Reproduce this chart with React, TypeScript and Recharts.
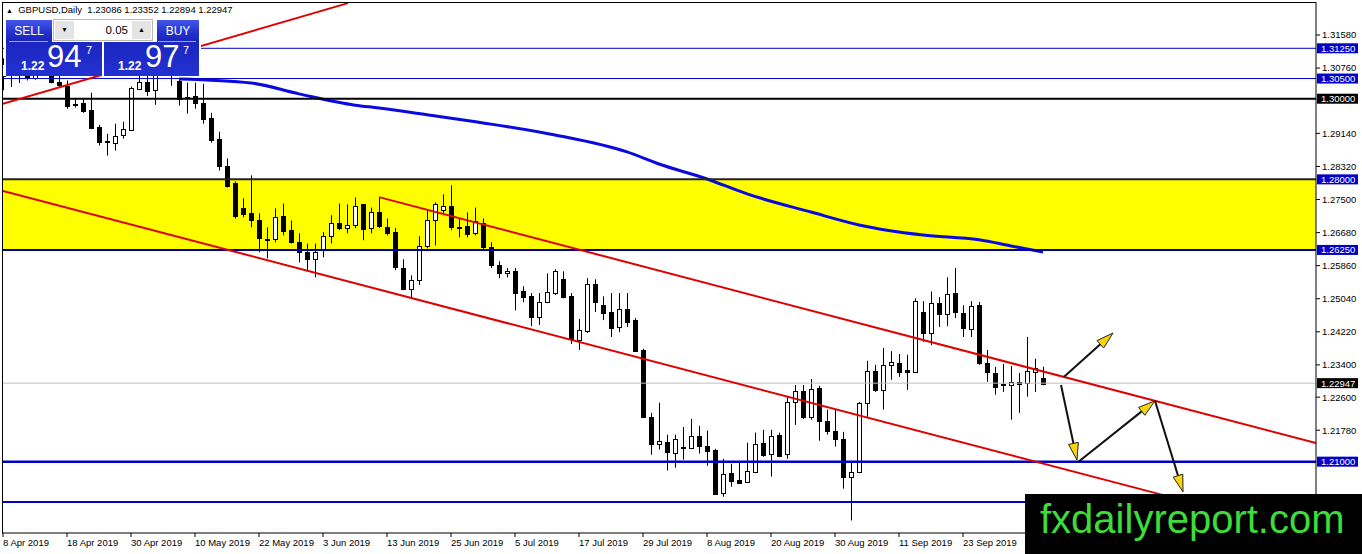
import React from 'react';
import {
    ComposedChart,
    Bar,
    Line,
    XAxis,
    YAxis,
    ReferenceLine,
    ReferenceArea,
} from 'recharts';

// GBPUSD daily, 8 Apr 2019 .. 7 Oct 2019 (one entry per bar)
const open = [
    1.3055, 1.3085, 1.3060, 1.3095, 1.3050, 1.3100, 1.3075, 1.3041, 1.3032, 1.2986,
    1.2990, 1.2973, 1.2931, 1.2895, 1.2891, 1.2911, 1.2923, 1.3025, 1.3042, 1.3022,
    1.3165, 1.3150, 1.3045, 1.3005, 1.3007, 1.2990, 1.2951, 1.2899, 1.2834, 1.2790,
    1.2730, 1.2716, 1.2698, 1.2653, 1.2651, 1.2708, 1.2674, 1.2644, 1.2619, 1.2602,
    1.2624, 1.2659, 1.2691, 1.2679, 1.2686, 1.2738, 1.2679, 1.2718, 1.2681, 1.2669,
    1.2580, 1.2528, 1.2550, 1.2634, 1.2698, 1.2723, 1.2733, 1.2682, 1.2684, 1.2666,
    1.2691, 1.2632, 1.2587, 1.2567, 1.2572, 1.2523, 1.2510, 1.2459, 1.2496, 1.2518,
    1.2552, 1.2510, 1.2402, 1.2424, 1.2540, 1.2488, 1.2471, 1.2434, 1.2478, 1.2451,
    1.2377, 1.2211, 1.2144, 1.2149, 1.2122, 1.2136, 1.2134, 1.2164, 1.2139, 1.2130,
    1.2023, 1.2073, 1.2055, 1.2050, 1.2075, 1.2147, 1.2120, 1.2167, 1.2120, 1.2248,
    1.2275, 1.2211, 1.2283, 1.2201, 1.2177, 1.2157, 1.2063, 1.2075, 1.2246, 1.2325,
    1.2278, 1.2340, 1.2345, 1.2327, 1.2322, 1.2471, 1.2419, 1.2493, 1.2466, 1.2518,
    1.2468, 1.2429, 1.2488, 1.2345, 1.2320, 1.2292, 1.2290, 1.2298, 1.2295, 1.2322,
    1.23086,
];
const high = [
    1.3100, 1.3105, 1.3115, 1.3120, 1.3130, 1.3120, 1.3085, 1.3075, 1.3045, 1.3002,
    1.3000, 1.3015, 1.2935, 1.2913, 1.2938, 1.2943, 1.3030, 1.3070, 1.3060, 1.3177,
    1.3200, 1.3175, 1.3050, 1.3040, 1.3040, 1.3037, 1.2965, 1.2918, 1.2852, 1.2795,
    1.2753, 1.2810, 1.2716, 1.2681, 1.2728, 1.2740, 1.2698, 1.2666, 1.2641, 1.2641,
    1.2669, 1.2711, 1.2740, 1.2738, 1.2755, 1.2738, 1.2730, 1.2755, 1.2703, 1.2679,
    1.2602, 1.2562, 1.2659, 1.2723, 1.2743, 1.2763, 1.2785, 1.2703, 1.2718, 1.2730,
    1.2703, 1.2644, 1.2597, 1.2580, 1.2580, 1.2535, 1.2518, 1.2518, 1.2567, 1.2577,
    1.2572, 1.2518, 1.2454, 1.2555, 1.2552, 1.2510, 1.2518, 1.2518, 1.2518, 1.2456,
    1.2380, 1.2221, 1.2246, 1.2167, 1.2167, 1.2186, 1.2206, 1.2189, 1.2177, 1.2132,
    1.2107, 1.2095, 1.2098, 1.2147, 1.2172, 1.2179, 1.2179, 1.2172, 1.2261, 1.2290,
    1.2290, 1.2305, 1.2288, 1.2229, 1.2229, 1.2174, 1.2100, 1.2248, 1.2350, 1.2340,
    1.2382, 1.2374, 1.2367, 1.2365, 1.2505, 1.2498, 1.2522, 1.2508, 1.2557, 1.2580,
    1.2488, 1.2498, 1.2496, 1.2377, 1.2335, 1.2342, 1.2337, 1.2320, 1.2409, 1.2355,
    1.23352,
];
const low = [
    1.3021, 1.3029, 1.3039, 1.3045, 1.3047, 1.3060, 1.3038, 1.3030, 1.2975, 1.2978,
    1.2965, 1.2926, 1.2884, 1.2859, 1.2871, 1.2901, 1.2920, 1.3022, 1.3007, 1.2985,
    1.3110, 1.3032, 1.2983, 1.2963, 1.2975, 1.2938, 1.2891, 1.2822, 1.2780, 1.2703,
    1.2706, 1.2681, 1.2619, 1.2604, 1.2644, 1.2661, 1.2641, 1.2594, 1.2575, 1.2557,
    1.2607, 1.2641, 1.2674, 1.2666, 1.2679, 1.2649, 1.2666, 1.2679, 1.2661, 1.2575,
    1.2525, 1.2505, 1.2538, 1.2629, 1.2636, 1.2711, 1.2674, 1.2656, 1.2656, 1.2661,
    1.2624, 1.2580, 1.2555, 1.2557, 1.2475, 1.2495, 1.2436, 1.2439, 1.2493, 1.2513,
    1.2505, 1.2392, 1.2377, 1.2419, 1.2471, 1.2451, 1.2409, 1.2421, 1.2434, 1.2372,
    1.2208, 1.2117, 1.2130, 1.2078, 1.2085, 1.2105, 1.2132, 1.2120, 1.2090, 1.2018,
    1.2013, 1.2038, 1.2045, 1.2048, 1.2073, 1.2112, 1.2063, 1.2112, 1.2107, 1.2191,
    1.2206, 1.2204, 1.2152, 1.2167, 1.2137, 1.2033, 1.1954, 1.2073, 1.2211, 1.2273,
    1.2229, 1.2303, 1.2310, 1.2278, 1.2320, 1.2397, 1.2389, 1.2434, 1.2436, 1.2456,
    1.2409, 1.2409, 1.2340, 1.2298, 1.2266, 1.2273, 1.2204, 1.2221, 1.2261, 1.2273,
    1.22894,
];
const close = [
    1.3085, 1.3060, 1.3095, 1.3050, 1.3100, 1.3075, 1.3041, 1.3034, 1.2983, 1.2984,
    1.2970, 1.2928, 1.2894, 1.2892, 1.2908, 1.2926, 1.3027, 1.3042, 1.3020, 1.3165,
    1.3150, 1.3090, 1.3000, 1.3002, 1.2990, 1.2951, 1.2896, 1.2832, 1.2785, 1.2708,
    1.2716, 1.2698, 1.2654, 1.2650, 1.2706, 1.2671, 1.2644, 1.2619, 1.2602, 1.2619,
    1.2659, 1.2691, 1.2679, 1.2686, 1.2733, 1.2676, 1.2718, 1.2684, 1.2666, 1.2582,
    1.2528, 1.2550, 1.2634, 1.2698, 1.2738, 1.2733, 1.2681, 1.2680, 1.2664, 1.2696,
    1.2632, 1.2587, 1.2567, 1.2572, 1.2518, 1.2508, 1.2459, 1.2496, 1.2520, 1.2572,
    1.2508, 1.2404, 1.2426, 1.2540, 1.2496, 1.2468, 1.2431, 1.2478, 1.2446, 1.2374,
    1.2211, 1.2144, 1.2152, 1.2125, 1.2157, 1.2134, 1.2164, 1.2139, 1.2127, 1.2021,
    1.2070, 1.2053, 1.2048, 1.2078, 1.2144, 1.2117, 1.2164, 1.2115, 1.2248, 1.2275,
    1.2211, 1.2280, 1.2201, 1.2177, 1.2157, 1.2063, 1.2075, 1.2246, 1.2325, 1.2278,
    1.2340, 1.2347, 1.2322, 1.2323, 1.2498, 1.2419, 1.2493, 1.2466, 1.2515, 1.2471,
    1.2431, 1.2486, 1.2345, 1.2322, 1.2285, 1.2290, 1.2298, 1.2293, 1.2325, 1.2332,
    1.22947,
];

// moving average, read at a few bars (bar index -> price)
const maIdx = [22, 31, 37, 44, 47, 53, 60, 69, 78, 82, 88, 93, 101, 107, 115, 122, 126, 130];
const maVal = [
    1.3049, 1.3039, 1.3012, 1.2984, 1.2977, 1.2960, 1.2940, 1.2910, 1.2868, 1.2838,
    1.2801, 1.2764, 1.2719, 1.2687, 1.2662, 1.2650, 1.2635, 1.2620,
];

// axis labels
const dateLabels = [
    '8 Apr 2019', '18 Apr 2019', '30 Apr 2019', '10 May 2019', '22 May 2019', '3 Jun 2019',
    '13 Jun 2019', '25 Jun 2019', '5 Jul 2019', '17 Jul 2019', '29 Jul 2019', '8 Aug 2019',
    '20 Aug 2019', '30 Aug 2019', '11 Sep 2019', '23 Sep 2019',
];
const dateTickBars = [0, 8, 16, 24, 32, 40, 48, 56, 64, 72, 80, 88, 96, 104, 112, 120];
const priceTicks = [1.3158, 1.3076, 1.2914, 1.2832, 1.275, 1.2668, 1.2586, 1.2504, 1.2422, 1.234, 1.226, 1.2178];

// horizontal levels and zone (the 1.20 level's tag sits under the watermark)
const levelPrices = [1.3125, 1.305, 1.3, 1.28, 1.2625, 1.21, 1.2];
const zone = [1.2625, 1.28];
const lastPrice = 1.22947;

// trend lines: [barFrom, priceFrom, barTo, priceTo]
const trendLines = [
    [-0.125, 1.2987, 43.125, 1.3237],
    [-0.125, 1.2772, 146, 1.2012],
    [47, 1.2756, 164.125, 1.2146],
];
// projected path arrows: [barFrom, priceFrom, barTo, priceTo]
const arrows = [
    [132.6, 1.2310, 138.75, 1.2419],
    [132.25, 1.2290, 134.25, 1.2104],
    [134.4, 1.2099, 144, 1.2251],
    [144, 1.2251, 147.5, 1.2025],
];

const rows = open.map((o, i) => {
    const k = maIdx.indexOf(i);
    return {
        i,
        o,
        h: high[i],
        l: low[i],
        c: close[i],
        range: [low[i], high[i]],
        ma: k >= 0 ? maVal[k] : null,
    };
});

const FONT = '"Liberation Sans", Arial, sans-serif';
const BLUE = '#0000c8';

function Candle(props: any) {
    const { x, y, width, height, payload } = props;
    if (x == null || y == null) return null;
    const c = Math.round(x + width / 2);
    const span = payload.h - payload.l;
    const k = span > 0 ? height / span : 0;
    const yo = y + (payload.h - payload.o) * k;
    const yc = y + (payload.h - payload.c) * k;
    const top = Math.round(Math.min(yo, yc));
    const bh = Math.max(1, Math.round(Math.abs(yo - yc)));
    const up = payload.c >= payload.o;
    return (
        <g>
            <line x1={c + 0.5} x2={c + 0.5} y1={y} y2={y + height} stroke="#000" strokeWidth={1} />
            <rect x={c - 1.5} y={top + 0.5} width={4} height={bh} fill={up ? '#fff' : '#000'} stroke="#000" strokeWidth={1} />
        </g>
    );
}

function DateTick(props: any) {
    const { x, y, payload } = props;
    const label = dateLabels[dateTickBars.indexOf(payload.value)];
    return (
        <text x={x} y={y + 7} fontSize={9.5} fontFamily={FONT} fill="#000" textAnchor="start">
            {label}
        </text>
    );
}

function PriceTag(props: any) {
    const { viewBox, text, bg } = props;
    if (!viewBox || !text) return null;
    const left = viewBox.x + viewBox.width + 1;
    return (
        <g>
            <rect x={left} y={viewBox.y - 5} width={41} height={10} fill={bg} />
            <text x={left + 4} y={viewBox.y + 3.5} fontSize={9.5} fontFamily={FONT} fill="#fff">
                {text}
            </text>
        </g>
    );
}

function Arrow(props: any) {
    const { x1, y1, x2, y2 } = props;
    const dx = x2 - x1;
    const dy = y2 - y1;
    const len = Math.hypot(dx, dy) || 1;
    const ux = dx / len;
    const uy = dy / len;
    const bx = x2 - ux * 17;
    const by = y2 - uy * 17;
    const pts = `${x2},${y2} ${bx - uy * 5},${by + ux * 5} ${bx + uy * 5},${by - ux * 5}`;
    return (
        <g>
            <line x1={x1} y1={y1} x2={bx} y2={by} stroke="#111" strokeWidth={2} />
            <polygon points={pts} fill="#f7d50c" stroke="#222" strokeWidth={1} />
        </g>
    );
}

const levelStroke = [BLUE, BLUE, '#000', '#222', '#0000a8', BLUE, BLUE];
const levelWidth = [1, 1, 2, 2, 2, 2.5, 2];
const levelTag = [BLUE, BLUE, '#000', BLUE, BLUE, BLUE, ''];

const btn: React.CSSProperties = {
    position: 'absolute',
    background: 'linear-gradient(180deg, #4456ea 0%, #2230cc 60%, #1a24b8 100%)',
    color: '#fff',
    fontFamily: FONT,
    textAlign: 'center',
};
const priceBox: React.CSSProperties = {
    position: 'absolute',
    top: 42,
    height: 34,
    background: 'linear-gradient(180deg, #1c26c0 0%, #2232d2 100%)',
    color: '#fff',
    fontFamily: FONT,
};

function TradePanel() {
    return (
        <>
            <div style={{ position: 'absolute', left: 4, top: 18, width: 197, height: 58, background: '#fff' }} />
            <div style={{ position: 'absolute', left: 6, top: 4, fontFamily: FONT, fontSize: 9.5, whiteSpace: 'pre', color: '#000' }}>
                <span style={{ fontSize: 7 }}>▲</span>{'  GBPUSD,Daily  1.23086 1.23352 1.22894 1.22947'}
            </div>
            <div style={{ ...btn, left: 6, top: 20, width: 46, height: 22, lineHeight: '22px', fontSize: 12 }}>SELL</div>
            <div style={{ position: 'absolute', left: 9, top: 41, width: 39, height: 1, background: '#9aa2ee' }} />
            <div style={{ position: 'absolute', left: 53, top: 19, width: 100, height: 22, background: '#fff', border: '1px solid #b8b8b8', boxSizing: 'border-box' }}>
                <div style={{ position: 'absolute', left: 1, top: 1, width: 19, height: 18, background: '#e4e4e4', fontSize: 7, textAlign: 'center', lineHeight: '18px' }}>▼</div>
                <div style={{ position: 'absolute', right: 24, top: 0, height: 20, lineHeight: '20px', fontFamily: FONT, fontSize: 11.5 }}>0.05</div>
                <div style={{ position: 'absolute', right: 1, top: 1, width: 19, height: 18, background: '#e4e4e4', fontSize: 7, textAlign: 'center', lineHeight: '18px' }}>▲</div>
            </div>
            <div style={{ ...btn, left: 157, top: 20, width: 42, height: 22, lineHeight: '22px', fontSize: 12 }}>BUY</div>
            <div style={{ position: 'absolute', left: 158, top: 41, width: 38, height: 1, background: '#9aa2ee' }} />
            <div style={{ ...priceBox, left: 6, width: 96 }}>
                <span style={{ position: 'absolute', left: 15, top: 17, fontSize: 12, fontWeight: 'bold' }}>1.22</span>
                <span style={{ position: 'absolute', left: 41, top: -3, fontSize: 31 }}>94</span>
                <span style={{ position: 'absolute', left: 80, top: 2, fontSize: 11 }}>7</span>
            </div>
            <div style={{ ...priceBox, left: 104, width: 95 }}>
                <span style={{ position: 'absolute', left: 14, top: 17, fontSize: 12, fontWeight: 'bold' }}>1.22</span>
                <span style={{ position: 'absolute', left: 41, top: -3, fontSize: 31 }}>97</span>
                <span style={{ position: 'absolute', left: 79, top: 2, fontSize: 11 }}>7</span>
            </div>
        </>
    );
}

export default function App() {
    return (
        <div style={{ position: 'absolute', left: 0, top: 0, width: 1362, height: 554, background: '#fff', overflow: 'hidden' }}>
            <ComposedChart width={1362} height={554} data={rows} margin={{ top: 2, right: 0, bottom: 0, left: 2 }}>
                <XAxis
                    dataKey="i"
                    type="number"
                    domain={[-0.125, 164.125]}
                    allowDataOverflow
                    ticks={dateTickBars}
                    interval={0}
                    height={21}
                    tickSize={4}
                    tickLine={{ stroke: '#000' }}
                    axisLine={{ stroke: '#000' }}
                    tick={<DateTick />}
                />
                <YAxis
                    orientation="right"
                    type="number"
                    domain={[1.19231, 1.32398]}
                    allowDataOverflow
                    ticks={priceTicks}
                    interval={0}
                    width={46}
                    tickSize={4}
                    tickMargin={2}
                    tickFormatter={(v: number) => v.toFixed(5)}
                    tick={{ fontSize: 9.5, fill: '#000', fontFamily: FONT }}
                    axisLine={{ stroke: '#000' }}
                    tickLine={{ stroke: '#000' }}
                />
                <ReferenceArea y1={zone[0]} y2={zone[1]} fill="#ffff00" fillOpacity={1} stroke="none" ifOverflow="hidden" />
                <Bar dataKey="range" barSize={5} shape={(p: any) => <Candle {...p} />} isAnimationActive={false} />
                <Line
                    dataKey="ma"
                    type="monotone"
                    stroke="#0a0ae0"
                    strokeWidth={3}
                    dot={false}
                    activeDot={false}
                    connectNulls
                    isAnimationActive={false}
                />
                <ReferenceLine
                    y={lastPrice}
                    stroke="#c0c0c0"
                    strokeWidth={1}
                    label={<PriceTag text={lastPrice.toFixed(5)} bg="#000" />}
                />
                {levelPrices.map((p, k) => (
                    <ReferenceLine
                        key={'lv' + k}
                        y={p}
                        stroke={levelStroke[k]}
                        strokeWidth={levelWidth[k]}
                        label={levelTag[k] ? <PriceTag text={p.toFixed(5)} bg={levelTag[k]} /> : undefined}
                    />
                ))}
                {trendLines.map((t, k) => (
                    <ReferenceLine
                        key={'tl' + k}
                        segment={[{ x: t[0], y: t[1] }, { x: t[2], y: t[3] }]}
                        stroke="#e00000"
                        strokeWidth={2}
                        ifOverflow="hidden"
                    />
                ))}
                {arrows.map((a, k) => (
                    <ReferenceLine
                        key={'ar' + k}
                        segment={[{ x: a[0], y: a[1] }, { x: a[2], y: a[3] }]}
                        shape={(p: any) => <Arrow {...p} />}
                    />
                ))}
            </ComposedChart>
            <div style={{ position: 'absolute', left: 2, top: 2, width: 1314, height: 531, borderTop: '1px solid #000', borderLeft: '1px solid #000', boxSizing: 'border-box', pointerEvents: 'none' }} />
            <TradePanel />
            <div style={{ position: 'absolute', left: 1025, top: 494, width: 337, height: 60, background: '#000' }}>
                <span style={{ position: 'absolute', left: 15, top: 5, lineHeight: '40px', fontSize: 40, fontFamily: FONT, color: '#3ddc3a', whiteSpace: 'nowrap' }}>
                    fxdailyreport.com
                </span>
            </div>
        </div>
    );
}
